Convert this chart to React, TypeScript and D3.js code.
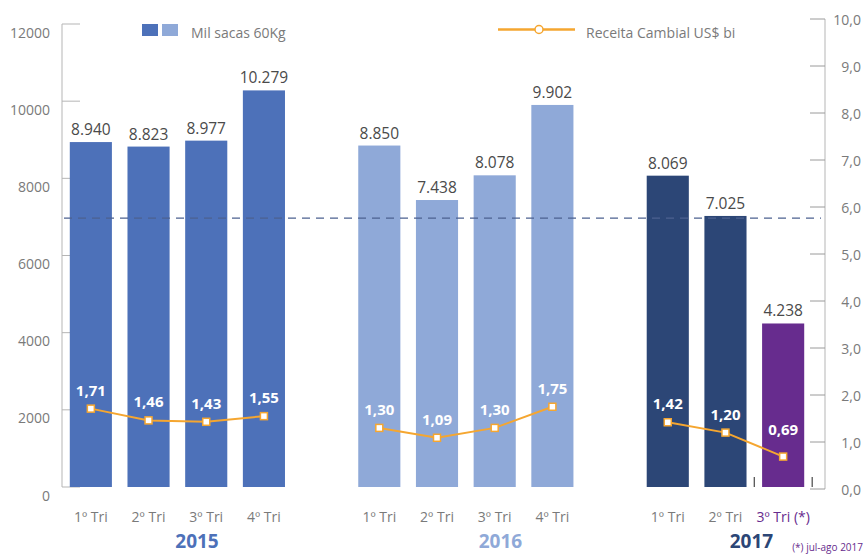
import React from "react";
import * as d3 from "d3";

// Quarterly coffee exports (thousand 60kg bags) and FX revenue (US$ bi)
const years = ["2015", "2016", "2017"];
const quarters2015 = ["1º Tri", "2º Tri", "3º Tri", "4º Tri"];
const quarters2016 = ["1º Tri", "2º Tri", "3º Tri", "4º Tri"];
const quarters2017 = ["1º Tri", "2º Tri", "3º Tri (*)"];
const sacas2015 = [8940, 8823, 8977, 10279];
const sacas2016 = [8850, 7438, 8078, 9902];
const sacas2017 = [8069, 7025, 4238];
const receita2015 = [1.71, 1.46, 1.43, 1.55];
const receita2016 = [1.3, 1.09, 1.3, 1.75];
const receita2017 = [1.42, 1.2, 0.69];
const referenceSacas = 6970;
const leftTicks = [0, 2000, 4000, 6000, 8000, 10000, 12000];
const rightTicks = [0, 1, 2, 3, 4, 5, 6, 7, 8, 9, 10];

const W = 864;
const H = 554;
const FONT = "'Open Sans', 'Noto Sans', sans-serif";

const yearColors = ["#4d71b9", "#8fa9d8", "#2c4676"];
const yearLabelColors = ["#4d71b9", "#8fa9d8", "#2c4676"];
const highlightColor = "#672c8e";
const lineColor = "#f5a630";
const axisColor = "#b5b5b5";
const textGray = "#7a7a7a";

const ptBR = d3.formatLocale({
  decimal: ",",
  thousands: ".",
  grouping: [3],
  currency: ["R$", ""],
});
const fmtSacas = ptBR.format(",.0f");
const fmtReceita = ptBR.format(",.2f");
const fmtRight = ptBR.format(",.1f");

interface Item {
  key: string;
  year: number;
  quarter: string;
  sacas: number;
  receita: number;
  last: boolean;
}

const groups = [
  { q: quarters2015, s: sacas2015, r: receita2015 },
  { q: quarters2016, s: sacas2016, r: receita2016 },
  { q: quarters2017, s: sacas2017, r: receita2017 },
];

const items: Item[] = [];
const domain: string[] = [];
groups.forEach((g, gi) => {
  g.q.forEach((q, i) => {
    const key = `${years[gi]}-${i}`;
    domain.push(key);
    items.push({
      key,
      year: gi,
      quarter: q,
      sacas: g.s[i],
      receita: g.r[i],
      last: gi === 2 && i === g.q.length - 1,
    });
  });
  if (gi < groups.length - 1) domain.push(`gap-${gi}`);
});

export default function App() {
  const x = d3
    .scaleBand<string>()
    .domain(domain)
    .range([62, 812])
    .paddingInner(0.27)
    .paddingOuter(0.135);
  const yL = d3.scaleLinear().domain([0, 12000]).range([487, 24]);
  const yR = d3.scaleLinear().domain([0, 10]).range([489, 19]);
  const bw = x.bandwidth();
  const step = x.step();

  // year label anchors, in band steps from the left of the range
  const yearSlots = [2.34, 7.6, 11.95];

  const line = d3
    .line<Item>()
    .x((d) => x(d.key)! + bw / 2)
    .y((d) => yR(d.receita));

  return (
    <svg
      width={W}
      height={H}
      style={{ position: "absolute", left: 0, top: 0, background: "#fff" }}
      fontFamily={FONT}
    >
      {/* left axis */}
      <line x1={62} x2={62} y1={yL(12000)} y2={yL(0)} stroke={axisColor} />
      {leftTicks.map((t) => (
        <g key={t}>
          <line x1={62} x2={80} y1={yL(t)} y2={yL(t)} stroke={axisColor} />
          <text
            x={50}
            y={yL(t) + 8}
            textAnchor="end"
            dominantBaseline="central"
            fontSize={14}
            fill={textGray}
          >
            {t}
          </text>
        </g>
      ))}

      {/* right axis */}
      <line x1={825} x2={825} y1={yR(10)} y2={yR(0)} stroke={axisColor} />
      {rightTicks.map((t) => (
        <g key={t}>
          <line x1={810} x2={825} y1={yR(t)} y2={yR(t)} stroke="#9a9a9a" />
          <text
            x={861}
            y={yR(t)}
            textAnchor="end"
            dominantBaseline="central"
            fontSize={14}
            fill={textGray}
          >
            {fmtRight(t)}
          </text>
        </g>
      ))}

      {/* bars */}
      {items.map((d) => (
        <g key={d.key}>
          <rect
            x={x(d.key)}
            y={yL(d.sacas)}
            width={bw}
            height={yL(0) - yL(d.sacas)}
            fill={d.last ? highlightColor : yearColors[d.year]}
          />
          <text
            x={x(d.key)! + bw / 2}
            y={yL(d.sacas) - 7}
            textAnchor="middle"
            fontSize={15.5}
            fill="#4a4a4a"
          >
            {fmtSacas(d.sacas)}
          </text>
          <text
            x={x(d.key)! + bw / 2}
            y={516}
            textAnchor="middle"
            dominantBaseline="central"
            fontSize={14}
            fill={d.last ? highlightColor : textGray}
          >
            {d.quarter}
          </text>
        </g>
      ))}

      {/* small marks at the base of the last group */}
      {[x(domain[domain.length - 2])! + bw + (step - bw) / 2, x(domain[domain.length - 1])! + bw + 8].map(
        (mx, i) => (
          <line key={i} x1={mx} x2={mx} y1={477} y2={487} stroke="#555" strokeWidth={1.3} />
        )
      )}

      {/* reference dashed line */}
      <line
        x1={64}
        x2={821}
        y1={yL(referenceSacas)}
        y2={yL(referenceSacas)}
        stroke="#4c6190"
        strokeWidth={1.2}
        strokeDasharray="8,6"
      />

      {/* receita line per year */}
      {years.map((yr, gi) => {
        const pts = items.filter((d) => d.year === gi);
        return (
          <path
            key={yr}
            d={line(pts) ?? ""}
            fill="none"
            stroke={lineColor}
            strokeWidth={2}
          />
        );
      })}
      {items.map((d) => {
        const cx = x(d.key)! + bw / 2;
        const cy = yR(d.receita);
        return (
          <g key={`r-${d.key}`}>
            <rect
              x={cx - 3.5}
              y={cy - 3.5}
              width={7}
              height={7}
              fill="#fff"
              stroke={lineColor}
              strokeWidth={1.5}
            />
            <text
              x={cx}
              y={cy - (d.last ? 28 : 19)}
              textAnchor="middle"
              dominantBaseline="central"
              fontSize={15}
              fontWeight="bold"
              fill="#fff"
            >
              {fmtReceita(d.receita)}
            </text>
          </g>
        );
      })}

      {/* year labels */}
      {years.map((yr, gi) => (
        <text
          key={yr}
          x={62 + step * yearSlots[gi]}
          y={541}
          textAnchor="middle"
          dominantBaseline="central"
          fontSize={19}
          fontWeight="bold"
          fill={yearLabelColors[gi]}
        >
          {yr}
        </text>
      ))}
      <text
        x={863}
        y={547}
        textAnchor="end"
        dominantBaseline="central"
        fontSize={10}
        fill={highlightColor}
      >
        (*) jul-ago 2017
      </text>

      {/* legend */}
      <rect x={142} y={24} width={16} height={12} fill={yearColors[0]} />
      <rect x={162} y={24} width={16} height={12} fill={yearColors[1]} />
      <text x={191} y={32} dominantBaseline="central" fontSize={14} fill={textGray}>
        Mil sacas 60Kg
      </text>
      <line x1={498} x2={575} y1={29.5} y2={29.5} stroke={lineColor} strokeWidth={2.5} />
      <circle cx={539} cy={29.5} r={4} fill="#fff" stroke={lineColor} strokeWidth={1.5} />
      <text x={586} y={32} dominantBaseline="central" fontSize={14} fill={textGray}>
        Receita Cambial US$ bi
      </text>
    </svg>
  );
}
